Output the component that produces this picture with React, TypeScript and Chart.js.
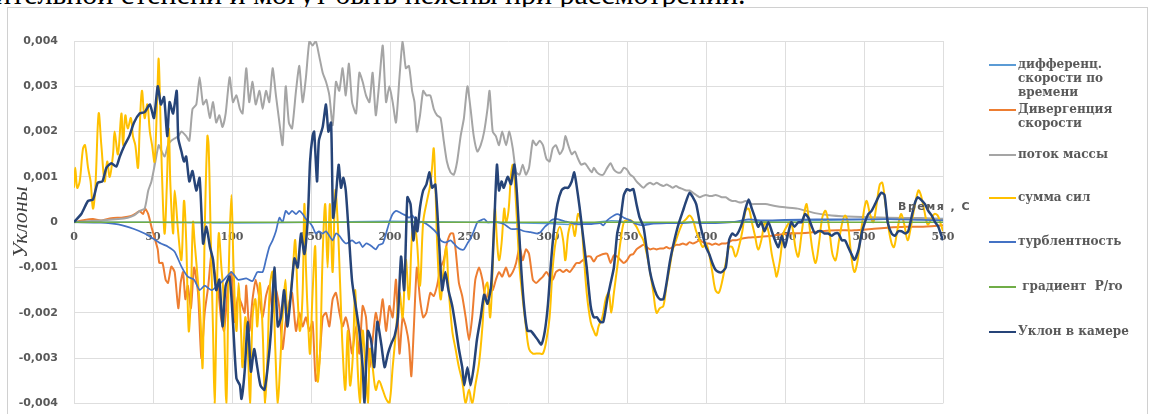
import { useEffect, useRef } from "react";
import { Chart, registerables } from "chart.js";

Chart.register(...registerables);

// ---------- data (time in s, slope values) ----------
const X_MIN = 0;
const X_MAX = 550;
const X_STEP = 50;
const Y_MIN = -0.004;
const Y_MAX = 0.004;
const Y_STEP = 0.001;

const SERIES_NAMES = [
  "дифференц.\nскорости по\nвремени",
  "Дивергенция\nскорости",
  "поток массы",
  "сумма сил",
  "турблентность",
  " градиент  P/ro",
  "Уклон в камере",
];
const SERIES_COLORS = ["#5B9BD5", "#ED7D31", "#A5A5A5", "#FFC000", "#4472C4", "#70AD47", "#264478"];

// дифференц. скорости по времени
const diffT = [0, 50, 100, 150, 200, 250, 300, 320, 340, 360, 400, 450, 500, 550];
const diffV = [0, 0, -0.00002, 0, 0.00002, 0, -0.00003, -0.00005, 0.00003, -0.00002, 0, 0.00003, 0.00006, 0.00008];

// Дивергенция скорости
const divT = [
  0, 6.7, 12, 17, 23.6, 30, 34, 37, 39.5, 41.6,
  43.7, 45, 47, 49, 50.6, 53, 54, 56, 58, 59.5,
  61.6, 63.7, 66, 67.5, 69, 70.5, 72, 74, 76, 78.5,
  80.6, 82.7, 85, 87, 89, 91, 93, 95, 97.5, 99.6,
  101.7, 103.8, 106, 108, 109, 111, 113, 115, 117.4, 119.4,
  121.5, 123.6, 125.7, 127.8, 130, 132, 134, 136, 138, 140.5,
  142.6, 144.7, 146.8, 149, 151, 153, 155, 157.4, 159.5, 161.6,
  163.7, 165.8, 168, 170, 172, 174, 176, 178.5, 180.6, 182.7,
  184.8, 187, 189, 191, 193, 195.4, 197.5, 199.6, 201.7, 203.8,
  206, 208, 210, 212, 213.5, 215, 217, 219, 221, 223,
  225.5, 227.7, 229.8, 232, 234, 236, 238.3, 240, 241.5, 243.6,
  245.7, 247.9, 250, 252, 254, 256.4, 258.5, 260.6, 262.8, 265,
  267, 269, 271, 273.4, 275.5, 277.7, 279.8, 282, 284, 286,
  288, 290.4, 292.5, 294.7, 296.8, 299, 301, 303, 305, 307.5,
  309.6, 311.7, 313.8, 316, 318, 320, 322, 324.5, 327, 329,
  331, 333, 335, 337.5, 339.6, 341.7, 343.8, 346, 348, 350,
  352, 354, 356, 358, 360.4, 362.5, 364.6, 366.7, 368.7, 370.8,
  373, 375, 377, 379, 381, 383, 385.4, 387.5, 389.6, 391.7,
  393.8, 396, 398, 400, 402, 404, 406, 408, 410, 412.5,
  414.6, 416.6, 418.7, 423, 427, 431, 441.6, 452, 462.7, 473,
  483.8, 494, 505, 515, 526, 536, 550,
];
const divV = [
  0, 0.00005, 0.00007, 0.00004, 0.00009, 0.0001, 0.00012, 0.00015, 0.0002, 0.00025,
  0.00018, 0.0003, 0.00018, -0.0001, -0.0003, -0.0006, -0.0009, -0.0009, -0.00127, -0.00134,
  -0.00098, -0.0011, -0.0019, -0.00134, -0.0011, -0.0017, -0.0014, -0.0019, -0.001, -0.00156,
  -0.003, -0.002, -0.0014, -0.0007, -0.0011, -0.0014, -0.0021, -0.0024, -0.0014, -0.0011,
  -0.0022, -0.00163, -0.0018, -0.002, -0.0014, -0.0024, -0.0017, -0.00127, -0.0017, -0.0021,
  -0.00163, -0.0014, -0.002, -0.0015, -0.0019, -0.0028, -0.0022, -0.0018, -0.00156, -0.0024,
  -0.002, -0.0023, -0.0021, -0.0024, -0.0022, -0.0035, -0.0032, -0.0021, -0.002, -0.0023,
  -0.0017, -0.00156, -0.002, -0.0023, -0.0021, -0.0024, -0.0029, -0.0023, -0.0029, -0.00185,
  -0.0021, -0.0032, -0.0026, -0.002, -0.0023, -0.0017, -0.0024, -0.00185, -0.0021, -0.00127,
  -0.0029, -0.0021, -0.0023, -0.0027, -0.0034, -0.0024, -0.001, -0.0017, -0.0021, -0.002,
  -0.00156, -0.00163, -0.0014, -0.001, -0.00084, -0.00047, -0.00025, -0.00025, -0.0006, -0.00134,
  -0.00163, -0.0021, -0.0026, -0.0021, -0.00127, -0.001, -0.00127, -0.0017, -0.0015, -0.0015,
  -0.00127, -0.0011, -0.0012, -0.001, -0.0012, -0.0011, -0.0009, -0.00055, -0.00084, -0.0006,
  -0.0007, -0.00127, -0.00134, -0.00127, -0.0012, -0.0011, -0.0012, -0.00127, -0.0011, -0.00105,
  -0.0011, -0.00105, -0.0011, -0.001, -0.0009, -0.0009, -0.00084, -0.00076, -0.00076, -0.00087,
  -0.00076, -0.00073, -0.0007, -0.0007, -0.0009, -0.00073, -0.00076, -0.00084, -0.0009, -0.00084,
  -0.00073, -0.0007, -0.0006, -0.00055, -0.0005, -0.00055, -0.0006, -0.00058, -0.0006, -0.00058,
  -0.00058, -0.00055, -0.00058, -0.00055, -0.0005, -0.0005, -0.00047, -0.0005, -0.00044, -0.00047,
  -0.00044, -0.0004, -0.00044, -0.00047, -0.00047, -0.0005, -0.00047, -0.0005, -0.00047, -0.00047,
  -0.00044, -0.0004, -0.0004, -0.00036, -0.00034, -0.00033, -0.0003, -0.00025, -0.00024, -0.0002,
  -0.00018, -0.00018, -0.00015, -0.00012, -0.0001, -0.0001, -0.00007,
];

// поток массы
const flowT = [
  0, 17, 28, 34, 38, 41.6, 44.7, 47, 49, 51.5,
  53.6, 55, 57.4, 59.5, 61.6, 63.7, 66, 68, 71, 73,
  75, 77.4, 79.5, 81.7, 83.8, 86, 88, 90, 92, 94,
  96, 98.5, 100.6, 102.8, 105, 106.7, 109, 110.9, 113, 115,
  117.4, 119.4, 121.5, 123.6, 125.7, 127.8, 130, 132, 134, 136,
  138, 140.5, 142.6, 144.7, 146.8, 149, 151, 153, 155, 157.4,
  159.5, 161.6, 163.7, 165.8, 167.9, 170, 172, 174, 176, 178.5,
  180.6, 182.7, 184.8, 187, 189, 191, 193, 195.4, 197.5, 199.6,
  201.7, 203.8, 206, 208, 210, 212, 214, 215.5, 217, 219,
  221, 223, 225.5, 227.7, 229.8, 232, 234, 236, 238.3, 240.4,
  242.5, 244.7, 246.8, 249, 251, 253, 255.3, 257.4, 259.6, 261.7,
  263, 265, 267, 269, 271, 273.5, 275.5, 277.7, 279.8, 282,
  284, 286, 288, 290.4, 292.5, 294.7, 296.8, 299, 301, 303,
  305, 307.5, 309.6, 311, 312.8, 315, 317, 319, 321, 323.4,
  325.5, 327.7, 329, 331, 333, 335, 337.5, 339.6, 341.7, 343.8,
  346, 348, 350, 352, 354, 356, 358, 360.4, 362.5, 364.6,
  366.7, 368.7, 370.8, 373, 375, 377, 379, 381, 383, 385.4,
  387.5, 389.6, 391.7, 393.8, 396, 398, 400, 402, 404, 406,
  408, 410, 412.5, 414.6, 416.6, 418.7, 420.8, 423, 425, 427,
  429, 431, 437.5, 443.7, 450, 458, 469, 479.5, 494, 515,
  536, 550,
];
const flowV = [
  0, 0.00004, 0.00007, 0.0001, 0.00015, 0.00025, 0.0003, 0.0007, 0.0009, 0.00134,
  0.0017, 0.0016, 0.00145, 0.0017, 0.0018, 0.00185, 0.0019, 0.002, 0.0019, 0.0018,
  0.0025, 0.0026, 0.0032, 0.0026, 0.0027, 0.0023, 0.00265, 0.0022, 0.00236, 0.0021,
  0.0024, 0.0032, 0.00265, 0.0028, 0.0025, 0.0024, 0.0034, 0.00265, 0.0031, 0.0026,
  0.0029, 0.0025, 0.0029, 0.00265, 0.0034, 0.0028, 0.0022, 0.0017, 0.003, 0.0022,
  0.00207, 0.0029, 0.00345, 0.00265, 0.0032, 0.004, 0.0039, 0.004, 0.0037, 0.0033,
  0.0031, 0.0028, 0.00214, 0.0031, 0.0029, 0.0034, 0.0028, 0.0035, 0.00265, 0.0024,
  0.0033, 0.0031, 0.0028, 0.00265, 0.0033, 0.00236, 0.003, 0.0039, 0.00265, 0.003,
  0.00265, 0.0022, 0.0032, 0.004, 0.0034, 0.00345, 0.0029, 0.00265, 0.002, 0.00236,
  0.0029, 0.0028, 0.0028, 0.0025, 0.00236, 0.0023, 0.0018, 0.00134, 0.0011, 0.00105,
  0.00134, 0.0019, 0.0023, 0.003, 0.0025, 0.0019, 0.00156, 0.0017, 0.002, 0.0025,
  0.0029, 0.002, 0.0019, 0.0017, 0.002, 0.0017, 0.002, 0.00163, 0.0011, 0.00105,
  0.00127, 0.00105, 0.0012, 0.0018, 0.0017, 0.0018, 0.0017, 0.0014, 0.00134, 0.00163,
  0.0017, 0.0015, 0.00163, 0.0019, 0.0017, 0.0015, 0.00156, 0.0014, 0.00127, 0.0013,
  0.0012, 0.0011, 0.0012, 0.0011, 0.00105, 0.00105, 0.0012, 0.0013, 0.00116, 0.0011,
  0.0011, 0.0012, 0.00116, 0.00105, 0.001, 0.0009, 0.00083, 0.00076, 0.00083, 0.00087,
  0.00083, 0.00087, 0.00083, 0.0008, 0.00083, 0.0008, 0.00076, 0.0008, 0.00076, 0.00073,
  0.0007, 0.0007, 0.00065, 0.0006, 0.00055, 0.00058, 0.0006, 0.00058, 0.00058, 0.0006,
  0.00058, 0.00055, 0.00055, 0.0005, 0.00047, 0.00047, 0.00044, 0.00044, 0.00047, 0.00044,
  0.0004, 0.0004, 0.0004, 0.00036, 0.00033, 0.0003, 0.0002, 0.00015, 0.00012, 0.0001,
  0.00009, 0.00007,
];

// сумма сил
const forceT = [
  0, 0.8, 2, 3.6, 5.7, 7, 8.9, 10.5, 12, 13.5,
  15.6, 17.3, 19.4, 21, 22.6, 24.7, 25.7, 27.8, 30, 31,
  32.5, 34, 36, 37.3, 38.8, 40.5, 41.6, 43, 44.7, 46.4,
  48, 49.4, 51, 52.8, 53.6, 55, 56.3, 57.4, 58.7, 60,
  61, 62.7, 63.7, 66, 68, 69.6, 71, 72.6, 73.9, 75.3,
  76.4, 78.5, 80, 81.4, 82.7, 84.4, 85.2, 86.5, 88, 89,
  90.3, 91.6, 93.3, 94.5, 96.4, 98, 99.6, 101, 102.8, 104.2,
  105.7, 106.7, 108.4, 110, 111.4, 113, 114.8, 116, 117.7, 119.4,
  121, 122.6, 124, 125.7, 127.4, 129, 130.4, 132, 133.8, 135,
  136.7, 138.4, 140, 141.6, 143, 144.7, 145.8, 146.8, 148.3, 149.4,
  151, 152.7, 154.2, 155.7, 157.4, 159, 160.5, 162, 163.7, 165.4,
  166.9, 168.4, 170, 171.7, 173.2, 174.7, 176.4, 178, 179.5, 181,
  182.7, 184.4, 186, 187.3, 189, 191, 193, 195.4, 197.5, 199.6,
  201.7, 203.8, 206, 208, 210, 212, 214, 215.5, 217, 219,
  221, 223.4, 225.5, 226.6, 227.7, 228.7, 230, 232, 234, 235.7,
  237, 239.4, 241.5, 243.6, 245.7, 247.9, 250, 252, 254, 256.4,
  258.5, 260, 261.7, 263.4, 265, 266.4, 267.7, 269, 270.6, 272.3,
  273.4, 275, 276.6, 277.7, 278.7, 280.4, 282, 284, 286, 288,
  290.4, 292.5, 294.7, 296.8, 299, 301, 303, 305, 307.5, 309.6,
  311, 312.8, 315, 317, 319, 321, 322.4, 324.5, 327, 329,
  330.6, 332, 334.4, 336.5, 338.5, 340, 341.7, 343.8, 346, 348,
  350, 352, 354, 356, 358, 360.4, 362.5, 364.6, 366.7, 368.7,
  370.8, 373, 375, 377, 379, 381, 383, 385.4, 387.5, 389.6,
  391.7, 393.8, 396, 398, 400, 402, 404, 406, 408, 410,
  412.5, 414.6, 416.6, 418.7, 420.8, 423, 425, 427, 429, 431,
  433, 435, 437.3, 439.5, 441.6, 443.7, 444.7, 446.8, 449, 451,
  453, 454.6, 456.8, 458.4, 460.5, 462.7, 463.7, 465.2, 467.3, 469.4,
  471.5, 473.6, 475.7, 477.8, 480, 482, 484.2, 486.3, 488, 489.7,
  491.8, 493.9, 496, 498, 500.2, 501.7, 503.8, 505.9, 508, 510,
  511.6, 513.3, 515.4, 517.5, 519, 521, 523.4, 525.5, 527.6, 529.7,
  531.8, 534.4, 536, 538.2, 540.3, 542.4, 544.5, 546.6, 548.7, 550,
];
const forceV = [
  0.00076, 0.0012, 0.00076, 0.0009, 0.00163, 0.0017, 0.0012, 0.0009, 0.0003, 0.00076,
  0.0024, 0.0017, 0.0009, 0.00134, 0.001, 0.0015, 0.002, 0.0015, 0.0024, 0.0017,
  0.00236, 0.00207, 0.0023, 0.0019, 0.0017, 0.0012, 0.0021, 0.0029, 0.0023, 0.0026,
  0.002, 0.0017, 0.00134, 0.0029, 0.0036, 0.0019, 0.0004, -0.00025, 0.00076, 0.00207,
  0.00083, -0.00025, 0.0007, -0.00025, -0.00083, 0.00047, -0.0004, -0.0024, -0.0017, 0,
  -0.00047, -0.00134, -0.0021, -0.0032, -0.00025, 0.0019, 0.0017, -0.00025, -0.0024, -0.004,
  -0.00185, -0.00025, -0.001, -0.00156, -0.004, -0.001, 0.0006, -0.001, -0.0024, -0.00134,
  -0.0024, -0.0032, -0.0021, -0.0028, -0.004, -0.0021, -0.0017, -0.0023, -0.00134, -0.0024,
  -0.004, -0.0028, -0.0014, -0.0011, -0.0028, -0.004, -0.0032, -0.0021, -0.00127, -0.0021,
  -0.0017, -0.0011, -0.0004, -0.0017, -0.0024, -0.00156, 0.0004, -0.001, -0.0023, -0.0029,
  -0.00156, -0.00055, -0.0035, -0.0029, -0.0007, 0.0004, -0.001, 0.0004, -0.0011, 0.0007,
  0, -0.00134, -0.0028, -0.0037, -0.0024, -0.0036, -0.003, -0.0015, -0.0032, -0.004,
  -0.0024, -0.0032, -0.004, -0.0028, -0.0032, -0.0037, -0.0035, -0.0037, -0.0039, -0.004,
  -0.0032, -0.0024, -0.00156, -0.0021, -0.00083, -0.0017, -0.00025, -0.0001, -0.0004, -0.0014,
  0, 0.00047, 0.00083, 0.0012, 0.00163, 0.00083, -0.0006, -0.0017, -0.001, -0.00055,
  -0.0014, -0.0024, -0.0028, -0.0032, -0.0035, -0.004, -0.0037, -0.004, -0.0036, -0.0031,
  -0.0023, -0.0015, -0.00134, -0.0021, -0.001, 0.0003, -0.0004, -0.00084, -0.00047, 0.0003,
  0, 0.00025, 0.00105, 0.00127, 0.001, 0, -0.001, -0.0017, -0.0023, -0.0028,
  -0.0029, -0.0029, -0.0029, -0.0029, -0.0026, -0.0021, -0.001, -0.0004, -0.0001, -0.0004,
  -0.00084, -0.00025, 0, -0.0003, 0.00018, 0, -0.0006, -0.00156, -0.0022, -0.0024,
  -0.0025, -0.0023, -0.0021, -0.0017, -0.00156, -0.002, -0.00156, -0.001, -0.0004, 0,
  0.00005, 0.00005, 0, -0.0001, -0.00025, -0.0004, -0.0007, -0.0011, -0.00156, -0.002,
  -0.0019, -0.00185, -0.0014, -0.001, -0.0006, -0.0004, -0.0002, 0, 0.00007, 0.00015,
  0.00005, -0.0002, -0.0004, -0.00055, -0.00047, -0.0007, -0.0011, -0.0015, -0.00156, -0.00134,
  -0.0009, -0.00055, -0.00055, -0.00076, -0.00055, -0.0002, 0.00025, 0.0003, 0, -0.0003,
  -0.0006, -0.0004, 0, -0.0002, -0.0007, -0.00105, -0.0012, -0.00084, -0.00025, -0.0001,
  0, -0.0001, -0.0006, -0.00076, -0.00025, 0.0003, 0.0004, 0, -0.0006, -0.0009,
  -0.00047, 0.0001, 0.00025, -0.0001, -0.0007, -0.00084, -0.0004, 0, 0.00015, 0,
  -0.0007, -0.0011, -0.00084, -0.00025, 0.0003, 0.00047, 0.00018, 0, 0.0004, 0.00083,
  0.00087, 0.00047, -0.0001, -0.00047, -0.00055, -0.0002, 0.00018, -0.00005, -0.0004, -0.0001,
  0.0003, 0.0007, 0.0006, 0.00025, -0.00005, 0.00005, 0.00018, 0.00015, -0.00005, -0.0002,
];

// турблентность
const turbT = [
  0, 17, 28, 38, 44.7, 50, 55, 59.5, 63.7, 68,
  72, 76, 79.5, 82.7, 87, 91, 95, 99.6, 103.8, 109,
  113, 116, 119.4, 121.5, 123.6, 125.7, 127.8, 130, 132, 134,
  136, 138, 140.5, 142.6, 144.7, 146.8, 149, 151, 153, 155,
  157.4, 159.5, 161.6, 163.7, 165.8, 168, 170, 172, 174, 176,
  178.5, 180.6, 182.7, 184.8, 187, 189, 191, 193, 195.4, 197.5,
  199.6, 201.7, 203.8, 206, 208, 210, 212, 214, 216, 218.6,
  221, 225.5, 229.8, 232, 234, 236, 238.3, 240.4, 242.5, 244.7,
  246.8, 249, 251, 253, 255.3, 257.4, 259.6, 261.7, 264, 268,
  272, 274.5, 276.6, 281, 285, 289, 293.6, 295.7, 298, 300,
  302, 304, 306, 308.5, 310.6, 315, 319, 323.4, 327.7, 333,
  335, 337.5, 339.6, 341.7, 343.8, 346, 348, 350, 352, 356,
  360.4, 364.6, 375, 385.4, 391.7, 396, 406, 416.6, 423, 427,
  435, 450, 470, 494, 515, 536, 550,
];
const turbV = [
  0, -0.00001, -0.00005, -0.00015, -0.00025, -0.00036, -0.00047, -0.00054, -0.00065, -0.00098,
  -0.0012, -0.00127, -0.0015, -0.0014, -0.0015, -0.0014, -0.00127, -0.0011, -0.00127, -0.00124,
  -0.0013, -0.0011, -0.0011, -0.00083, -0.00055, -0.0004, -0.0002, 0.0001, 0, 0.00025,
  0.00018, 0.00025, 0.00018, 0.00025, 0.00018, 0.00007, 0, -0.0001, -0.00025, -0.0002,
  -0.00025, -0.0002, -0.0003, -0.0004, -0.00025, -0.0003, -0.0004, -0.00047, -0.00044, -0.0004,
  -0.00047, -0.00044, -0.00055, -0.00047, -0.0005, -0.00055, -0.0006, -0.0005, -0.00047, -0.00025,
  0, 0.00018, 0.00025, 0.00022, 0.00018, 0.00015, 0.0001, 0.00015, 0.00007, 0,
  0, -0.0001, -0.00025, -0.0004, -0.00044, -0.00044, -0.0004, -0.00047, -0.00055, -0.0006,
  -0.0006, -0.00047, -0.00036, -0.0002, 0, 0.00004, 0.00007, 0, 0, 0,
  -0.00004, -0.0001, -0.00015, -0.00015, -0.0002, -0.00022, -0.00025, -0.0002, -0.0001, -0.00004,
  0.00004, 0.00007, 0.00007, 0.00004, 0.00002, -0.00002, -0.00004, -0.00004, -0.00004, -0.00002,
  -0.00007, 0.00004, 0.0001, 0.00015, 0.00018, 0.00015, 0.0001, 0.00007, 0.00004, -0.00004,
  -0.00007, -0.00004, -0.00002, -0.00002, 0, -0.00002, -0.00002, 0, 0.00004, 0.00006,
  0.00004, 0.00005, 0.00006, 0.00006, 0.00007, 0.00005, 0.00004,
];

// градиент P/ro
const gradT = [0, 550];
const gradV = [0, 0];

// Уклон в камере
const slopeT = [
  0, 4.6, 8.9, 12, 15, 18, 20.5, 23.6, 26.8, 29,
  32, 35, 38, 41.6, 44.7, 48, 50.6, 53, 55, 57,
  59, 60.5, 62.7, 65, 66, 68, 69.6, 71, 73, 75,
  77.4, 79.5, 81.7, 83.8, 86, 88, 90, 92, 94, 96,
  98.5, 100.6, 102.8, 105, 106, 108, 110, 112, 114, 116,
  118, 120.5, 122.6, 124.7, 126.8, 129, 131, 133, 135, 137,
  139.5, 141.6, 143.7, 145.8, 148, 149.4, 151, 152, 153.8, 155,
  157.4, 159.5, 161, 162.7, 164, 165.8, 167.5, 169, 170.5, 172,
  174, 176, 178.5, 180.6, 182.7, 183.8, 186, 188, 190, 192,
  194.5, 196.6, 198.7, 200.6, 203, 205, 207, 209, 211, 213,
  214.8, 216.3, 217.3, 219, 221, 223, 225, 226.6, 228.7, 231,
  233, 235, 237, 239.4, 241.5, 243.6, 245.7, 247, 249, 251,
  253, 255, 257.4, 259.6, 261.7, 264, 266, 267.7, 269, 270.6,
  272, 274.5, 276.6, 278.7, 280.4, 283, 285, 287, 289, 291.5,
  293.6, 295.7, 298, 300, 302, 304, 306, 308.5, 310.6, 312.8,
  315, 316.6, 318, 320, 322, 324.5, 327, 329, 331, 333,
  335, 337.5, 339.6, 341.7, 343.8, 346, 348, 350, 352, 354,
  356, 358, 360.4, 362.5, 364.6, 366.7, 368.7, 370.8, 373, 375,
  377, 379, 381, 383, 385.4, 387.5, 389.6, 391.7, 393.8, 396,
  398, 400, 402, 404, 406, 408, 410, 412.5, 414.6, 416.6,
  418.7, 420.8, 423, 425, 427, 429, 431, 433, 435, 437,
  439.5, 441.6, 443.7, 445.8, 448, 450, 452, 454, 456, 458.4,
  460.5, 462.7, 464.8, 467, 469, 471, 473, 475, 477.4, 479.5,
  481.6, 483.8, 486, 488, 490, 492, 494, 496.6, 498.5, 500.6,
  502.7, 504.8, 507, 509, 511, 513, 515, 517.5, 519.6, 521.7,
  523.8, 526, 528, 530, 532, 534, 536, 538.6, 540.7, 542.8,
  545, 547, 549, 550,
];
const slopeV = [
  0, 0.00018, 0.00047, 0.0005, 0.00087, 0.0009, 0.0012, 0.0013, 0.00123, 0.00145,
  0.0017, 0.0019, 0.0022, 0.0024, 0.00243, 0.0026, 0.0023, 0.003, 0.0026, 0.00276,
  0.0019, 0.00265, 0.0024, 0.0029, 0.00185, 0.00156, 0.00134, 0.00145, 0.0009, 0.00113,
  0.0007, 0.00098, -0.00047, -0.0001, -0.00054, -0.00083, -0.0015, -0.00127, -0.0023, -0.0014,
  -0.0012, -0.0022, -0.00345, -0.0036, -0.0039, -0.0033, -0.0022, -0.0033, -0.0028, -0.0032,
  -0.0036, -0.0037, -0.0032, -0.0024, -0.001, -0.0023, -0.0021, -0.0015, -0.0023, -0.0017,
  -0.0008, -0.001, -0.00025, -0.0007, 0.0001, 0.00134, 0.0019, 0.002, 0.0009, 0.0018,
  0.0021, 0.0026, 0.002, 0.0022, 0.0001, 0.0006, 0.00127, 0.00076, 0.00098, 0.0007,
  -0.0003, -0.0013, -0.0019, -0.0024, -0.0032, -0.004, -0.0024, -0.0026, -0.0032, -0.0022,
  -0.0027, -0.0032, -0.0029, -0.0027, -0.0025, -0.0021, -0.00076, -0.0015, 0.00055, 0.0004,
  -0.0004, 0.0001, -0.0002, 0.00033, 0.0007, 0.00083, 0.0011, 0.00076, 0.00083, -0.0004,
  -0.0015, -0.0011, -0.0015, -0.00185, -0.0023, -0.0028, -0.0032, -0.0036, -0.0032, -0.0036,
  -0.0032, -0.0026, -0.0021, -0.0016, -0.0018, -0.0014, 0, 0.00127, 0.0007, 0.0009,
  0.00076, 0.001, 0.00084, 0.00127, 0.0006, -0.001, -0.0019, -0.0024, -0.0024, -0.0025,
  -0.0026, -0.0027, -0.0024, -0.0018, -0.00084, -0.0001, 0.0004, 0.0007, 0.00076, 0.00076,
  0.0009, 0.0011, 0.00083, 0.00033, -0.00025, -0.001, -0.00185, -0.0021, -0.0021, -0.0022,
  -0.0022, -0.0017, -0.00135, -0.001, -0.00025, 0.0001, 0.0006, 0.00073, 0.0007, 0.00073,
  0.0004, 0.0001, -0.0001, -0.0006, -0.0011, -0.0014, -0.0016, -0.0017, -0.0017, -0.00135,
  -0.0009, -0.00055, -0.00025, 0, 0.00025, 0.00047, 0.00065, 0.00055, 0.0004, 0,
  -0.0003, -0.00055, -0.0007, -0.0009, -0.00105, -0.0011, -0.0011, -0.001, -0.0004, -0.00025,
  -0.0003, -0.0002, 0, 0.0003, 0.0005, 0.0003, 0.0001, -0.0001, 0, -0.0002,
  0, -0.0002, -0.0004, -0.00055, -0.0003, -0.00055, -0.00025, 0, -0.0001, 0,
  0, 0.00018, 0.0001, -0.0001, -0.00025, -0.0002, -0.0002, -0.00025, -0.00025, -0.0003,
  -0.00025, -0.00025, -0.0004, -0.0004, -0.00055, -0.0007, -0.00083, -0.0006, -0.00025, 0,
  0.00018, 0.00025, 0.0004, 0.00055, 0.00065, 0.0006, 0, -0.00025, -0.0003, -0.0002,
  -0.0002, -0.00025, -0.0002, 0.0001, 0.0004, 0.00055, 0.0005, 0.0004, 0.00025, 0.00015,
  0, -0.0001, -0.0003, -0.0004,
];

const SERIES_T = [diffT, divT, flowT, forceT, turbT, gradT, slopeT];
const SERIES_V = [diffV, divV, flowV, forceV, turbV, gradV, slopeV];
const SERIES_WIDTH = [1.5, 2, 2, 2, 1.75, 1.5, 2.5];

const TOP_TEXT = "значительной степени и могут быть неясны при рассмотрении.";
const X_TITLE = "Время , С";
const Y_TITLE = "Уклоны";

const LEGEND_TOPS = [65, 110, 155, 198, 242, 287, 332];

function pairs(t: number[], v: number[]) {
  const n = Math.min(t.length, v.length);
  const out: { x: number; y: number }[] = [];
  for (let i = 0; i < n; i++) out.push({ x: t[i], y: v[i] });
  return out;
}

function fmtY(v: number) {
  if (Math.abs(v) < 1e-9) return "0";
  return v.toFixed(3).replace(".", ",");
}

export default function App() {
  const ref = useRef<HTMLCanvasElement>(null);

  useEffect(() => {
    if (!ref.current) return;
    const datasets = SERIES_NAMES.map((name, i) => ({
      label: name.replace(/\n/g, " "),
      data: pairs(SERIES_T[i], SERIES_V[i]),
      borderColor: SERIES_COLORS[i],
      backgroundColor: SERIES_COLORS[i],
      borderWidth: SERIES_WIDTH[i],
      pointRadius: 0,
      tension: i === 3 ? 0.35 : 0.2,
      fill: false,
      order: SERIES_NAMES.length - i,
    }));
    const chart = new Chart(ref.current, {
      type: "line",
      data: { datasets },
      options: {
        animation: false,
        responsive: false,
        devicePixelRatio: 1,
        layout: { padding: { top: 33, right: 204, bottom: 18, left: 0 } },
        plugins: { legend: { display: false }, tooltip: { enabled: false } },
        scales: {
          x: {
            type: "linear",
            min: X_MIN,
            max: X_MAX,
            position: { y: 0 },
            ticks: {
              stepSize: X_STEP,
              padding: 8,
              color: "#595959",
              font: { family: "'DejaVu Serif'", weight: "bold", size: 11 },
              maxRotation: 0,
              autoSkip: false,
            },
            grid: { color: "#dedede", lineWidth: 1, drawTicks: false },
            border: { display: false },
          },
          y: {
            type: "linear",
            min: Y_MIN,
            max: Y_MAX,
            afterFit: (s: any) => {
              s.width = 66;
            },
            ticks: {
              stepSize: Y_STEP,
              padding: 16,
              color: "#595959",
              font: { family: "'DejaVu Sans'", weight: "bold", size: 11 },
              callback: (v: any) => fmtY(Number(v)),
            },
            grid: { color: "#dedede", lineWidth: 1, drawTicks: false },
            border: { display: false },
            title: {
              display: true,
              text: Y_TITLE,
              color: "#404040",
              font: { family: "'Liberation Serif'", style: "italic", size: 22 },
              padding: { top: 0, bottom: 0 },
            },
          },
        },
      },
    });
    return () => chart.destroy();
  }, []);

  return (
    <div style={{ position: "absolute", left: 0, top: 0, width: 1152, height: 414, overflow: "hidden", background: "#fff" }}>
      <div
        style={{
          position: "absolute",
          left: 7,
          top: 7,
          width: 1141,
          height: 420,
          border: "1px solid #d0d0d0",
          boxSizing: "border-box",
          background: "#fff",
        }}
      >
        <canvas ref={ref} width={1139} height={418} style={{ display: "block" }} />
      </div>
      <div style={{ position: "absolute", left: 0, top: 0, width: 1152, height: 7, overflow: "hidden", zIndex: 2 }}>
        <div
          style={{
            position: "absolute",
            left: -60,
            top: -23,
            whiteSpace: "nowrap",
            fontFamily: "'Liberation Serif', serif",
            fontSize: 30,
            lineHeight: "34px",
            color: "#000",
          }}
        >
          {TOP_TEXT}
        </div>
      </div>
      <div
        style={{
          position: "absolute",
          left: 898,
          top: 200,
          fontFamily: "'DejaVu Sans', sans-serif",
          fontWeight: "bold",
          fontSize: 11,
          letterSpacing: 1.5,
          color: "#595959",
          whiteSpace: "nowrap",
        }}
      >
        {X_TITLE}
      </div>
      {SERIES_NAMES.map((name, i) => (
        <div key={i} style={{ position: "absolute", left: 989, top: LEGEND_TOPS[i] - 8, display: "flex" }}>
          <div
            style={{
              width: 27,
              height: 2,
              marginTop: 7,
              background: SERIES_COLORS[i],
              flex: "none",
            }}
          />
          <div
            style={{
              marginLeft: 2,
              whiteSpace: "pre",
              fontFamily: "'DejaVu Serif', serif",
              fontWeight: "bold",
              fontSize: 12,
              lineHeight: "14px",
              color: "#595959",
            }}
          >
            {name}
          </div>
        </div>
      ))}
    </div>
  );
}
